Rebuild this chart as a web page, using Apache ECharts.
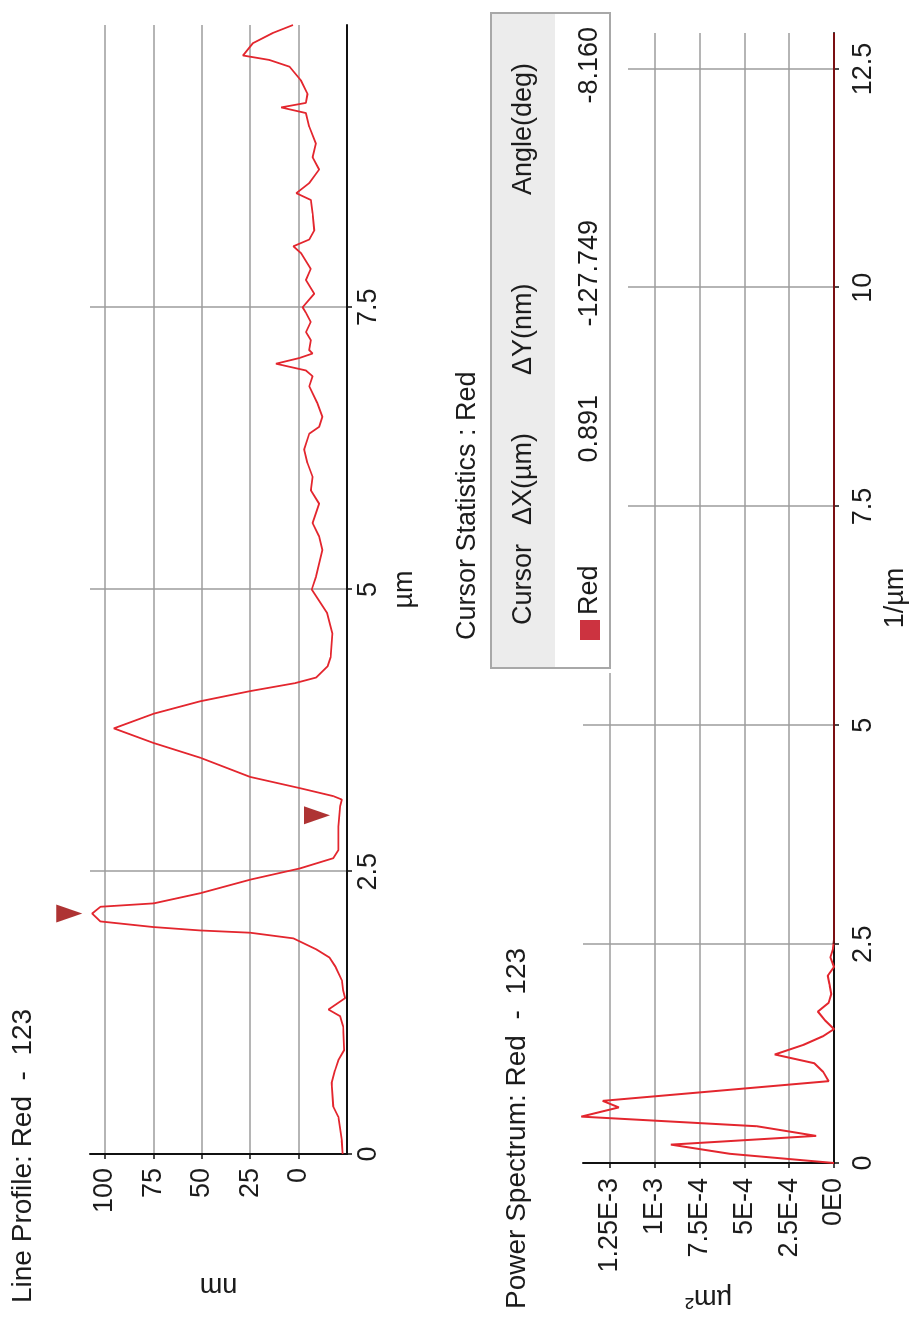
<!DOCTYPE html>
<html>
<head>
<meta charset="utf-8">
<script src="https://cdn.jsdelivr.net/npm/echarts@6/dist/echarts.min.js"></script>
<style>
  html, body { margin: 0; padding: 0; background: #fff; width: 910px; height: 1328px; overflow: hidden; }
  /* the chart is laid out landscape and turned a quarter turn, as in the photo */
  #chart {
    position: absolute; left: 0; top: 0;
    width: 1328px; height: 910px;
    transform-origin: 0 0;
    transform: translateY(1328px) rotate(-90deg);
  }
</style>
</head>
<body>
<div id="chart"></div>
<script>
// line profile: [position um, height nm]
const profile = [
  [0.00, -22.7], [0.12, -22.3], [0.33, -20.5], [0.42, -17.9], [0.63, -17.1],
  [0.74, -18.8], [0.83, -20.5], [0.92, -23.5], [1.13, -23.0], [1.22, -21.5],
  [1.28, -15.4], [1.38, -24.0], [1.45, -23.0], [1.54, -22.3], [1.66, -19.0],
  [1.74, -16.0], [1.81, -9.4], [1.91, 2.7], [1.96, 25.0], [1.98, 50.8],
  [2.01, 74.8], [2.06, 102.3], [2.13, 106.6], [2.19, 102.3], [2.22, 74.8],
  [2.31, 50.8], [2.43, 25.0], [2.53, -0.8], [2.62, -17.9], [2.69, -20.5],
  [2.90, -20.5], [3.08, -21.4], [3.14, -22.3], [3.17, -17.9], [3.24, -0.8],
  [3.34, 25.0], [3.51, 50.8], [3.64, 74.8], [3.77, 95.4], [3.90, 74.8],
  [4.01, 50.8], [4.10, 25.0], [4.17, 2.0], [4.22, -9.0], [4.32, -15.0],
  [4.40, -16.5], [4.61, -17.4], [4.79, -14.8], [5.00, -6.8], [5.11, -8.9],
  [5.35, -12.3], [5.47, -10.6], [5.59, -7.2], [5.76, -10.6], [5.88, -6.3],
  [6.00, -7.2], [6.12, -4.6], [6.24, -2.9], [6.38, -5.5], [6.44, -10.6],
  [6.53, -12.3], [6.65, -9.7], [6.80, -5.5], [6.89, -7.2], [6.94, -3.8],
  [7.00, 11.7], [7.05, -0.3], [7.09, -7.2], [7.12, -5.5], [7.21, -6.3],
  [7.28, -3.8], [7.37, -6.3], [7.45, -3.8], [7.50, -2.1], [7.62, -8.1],
  [7.74, -3.8], [7.84, -6.3], [7.98, -1.2], [8.04, 2.7], [8.10, -5.5],
  [8.18, -8.1], [8.33, -7.2], [8.45, -6.3], [8.51, 1.2], [8.60, -5.5],
  [8.72, -10.6], [8.83, -7.2], [8.95, -8.9], [9.10, -5.5], [9.22, -3.8],
  [9.27, 9.0], [9.31, -3.8], [9.39, -4.6], [9.51, -1.2], [9.63, 4.6],
  [9.69, 15.0], [9.73, 28.7], [9.84, 23.5], [9.93, 13.2], [10.00, 2.9]
];

// cursor marks on the profile: [um, nm]
const cursors = [[2.13, 106.6], [3.00, -21.4]];

// power spectrum: [frequency 1/um, power um^2]
const spectrum = [
  [0.00, 0], [0.105, 5.8e-4], [0.21, 9.1e-4], [0.31, 1.0e-4], [0.42, 4.3e-4],
  [0.53, 1.41e-3], [0.635, 1.2e-3], [0.71, 1.29e-3], [0.935, 0.3e-4], [1.04, 0.6e-4],
  [1.14, 1.1e-4], [1.24, 3.3e-4], [1.35, 1.7e-4], [1.45, 0.6e-4], [1.53, 0],
  [1.63, 0.5e-4], [1.73, 0.9e-4], [1.83, 0.3e-4], [1.93, 0.15e-4], [2.04, 0.25e-4],
  [2.14, 0.35e-4], [2.24, 0], [2.35, 0.2e-4], [2.45, 0.05e-4], [2.55, 0],
  [5.0, 0], [7.5, 0], [10.0, 0], [12.91, 0]
];
const spectrumTicks = ['0E0', '2.5E-4', '5E-4', '7.5E-4', '1E-3', '1.25E-3'];

// cursor statistics table
const statHeaders = ['Cursor', 'ΔX(µm)', 'ΔY(nm)', 'Angle(deg)'];
const statRow = ['Red', '0.891', '-127.749', '-8.160'];

const FONT = '"Liberation Sans", Arial, sans-serif';
const TXT = '#1c1c1c';
const RED = '#e3262e';

const chart = echarts.init(document.getElementById('chart'), null, { renderer: 'canvas' });

function xAxisCommon() {
  return {
    type: 'value',
    axisLine: { show: true, onZero: false, lineStyle: { color: '#111', width: 2 } },
    axisTick: { show: true, length: 5, lineStyle: { color: '#111', width: 1.5 } },
    axisLabel: { color: TXT, fontFamily: FONT, fontSize: 27, showMaxLabel: false },
    splitLine: { show: true, showMaxLine: false, lineStyle: { color: '#9c9c9c', width: 1.5 } },
    nameLocation: 'middle',
    nameTextStyle: { color: TXT, fontFamily: FONT, fontSize: 27 }
  };
}

const headerX = [703, 803, 953, 1133];
const valueRight = [null, 933, 1108, 1301];

const graphics = [
  { type: 'rect', z: 100, shape: { x: 655, y: 440, width: 673, height: 188 }, style: { fill: '#fff' } },
  { type: 'text', z: 101, x: 688, y: 468,
    style: { text: 'Cursor Statistics : Red', font: '27px ' + FONT, fill: TXT, verticalAlign: 'middle' } },
  { type: 'rect', z: 101, shape: { x: 660, y: 491, width: 655, height: 119 },
    style: { fill: '#fff', stroke: '#a8a8a8', lineWidth: 2 } },
  { type: 'rect', z: 102, shape: { x: 661, y: 492, width: 653, height: 63 }, style: { fill: '#ececec' } },
  { type: 'rect', z: 103, shape: { x: 688, y: 580, width: 20, height: 20 }, style: { fill: '#cc3340' } }
];
statHeaders.forEach((h, i) => {
  graphics.push({ type: 'text', z: 103, x: headerX[i], y: 524,
    style: { text: h, font: '27px ' + FONT, fill: TXT, verticalAlign: 'middle' } });
});
statRow.forEach((v, i) => {
  const right = valueRight[i];
  graphics.push({ type: 'text', z: 103, x: right === null ? 713 : right, y: 590,
    style: { text: v, font: '27px ' + FONT, fill: TXT, verticalAlign: 'middle', align: right === null ? 'left' : 'right' } });
});

chart.setOption({
  animation: false,
  backgroundColor: '#fff',
  title: [
    { text: 'Line Profile: Red  -  123', left: 20, top: 4,
      textStyle: { color: TXT, fontFamily: FONT, fontSize: 28, fontWeight: 'normal' } },
    { text: 'Power Spectrum: Red  -  123', left: 14, top: 498,
      textStyle: { color: TXT, fontFamily: FONT, fontSize: 28, fontWeight: 'normal' } }
  ],
  grid: [
    { left: 174, top: 90, width: 1129, height: 257 },
    { left: 165, top: 583, width: 1130, height: 257 }
  ],
  xAxis: [
    Object.assign(xAxisCommon(), {
      gridIndex: 0, min: 0, max: 10, interval: 2.5,
      name: 'µm', nameGap: 44
    }),
    Object.assign(xAxisCommon(), {
      gridIndex: 1, min: 0, max: 12.91, interval: 2.5,
      name: '1/µm', nameGap: 48,
      axisLabel: { color: TXT, fontFamily: FONT, fontSize: 27, margin: 16, showMaxLabel: false }
    })
  ],
  yAxis: [
    {
      type: 'value', gridIndex: 0, min: -25, max: 107.7, interval: 25,
      name: 'nm', nameLocation: 'middle', nameGap: 118, nameRotate: 90,
      nameTextStyle: { color: TXT, fontFamily: FONT, fontSize: 27 },
      axisLine: { show: true, onZero: false, lineStyle: { color: '#111', width: 2 } },
      axisTick: { show: true, length: 5, lineStyle: { color: '#111', width: 1.5 } },
      axisLabel: { color: TXT, fontFamily: FONT, fontSize: 27, margin: 14, showMinLabel: false, showMaxLabel: false },
      splitLine: { show: true, showMaxLine: false, lineStyle: { color: '#9c9c9c', width: 1.5 } }
    },
    {
      type: 'value', gridIndex: 1, min: 0, max: 1.4e-3, interval: 2.5e-4,
      name: 'µm²', nameLocation: 'middle', nameGap: 118, nameRotate: 90,
      nameTextStyle: { color: TXT, fontFamily: FONT, fontSize: 27 },
      axisLine: { show: true, onZero: false, lineStyle: { color: '#111', width: 2 } },
      axisTick: { show: true, length: 5, lineStyle: { color: '#111', width: 1.5 } },
      axisLabel: {
        color: TXT, fontFamily: FONT, fontSize: 27, margin: 15, showMaxLabel: false,
        formatter: v => spectrumTicks[Math.round(v / 2.5e-4)] || ''
      },
      splitLine: { show: true, showMaxLine: false, lineStyle: { color: '#9c9c9c', width: 1.5 } }
    }
  ],
  // flat tail of the spectrum sits on the axis and reads darker
  visualMap: [{
    type: 'piecewise', show: false, seriesIndex: 2, dimension: 0,
    pieces: [
      { gte: 0, lt: 2.5, color: RED },
      { gte: 2.5, lte: 13, color: '#7a0f12' }
    ],
    outOfRange: { color: RED }
  }],
  series: [
    {
      name: 'profile', type: 'line', xAxisIndex: 0, yAxisIndex: 0,
      data: profile, showSymbol: false, symbol: 'none', clip: false,
      lineStyle: { color: RED, width: 1.8 }
    },
    {
      name: 'cursors', type: 'scatter', xAxisIndex: 0, yAxisIndex: 0,
      data: cursors, clip: false,
      symbol: 'path://M0,0 L18,0 L9,26 Z', symbolSize: [18, 26], symbolOffset: [0, -23],
      itemStyle: { color: '#9a0000' }
    },
    {
      name: 'spectrum', type: 'line', xAxisIndex: 1, yAxisIndex: 1,
      data: spectrum, showSymbol: false, symbol: 'none', clip: false,
      lineStyle: { width: 2 }
    }
  ],
  graphic: graphics
});
</script>
</body>
</html>
